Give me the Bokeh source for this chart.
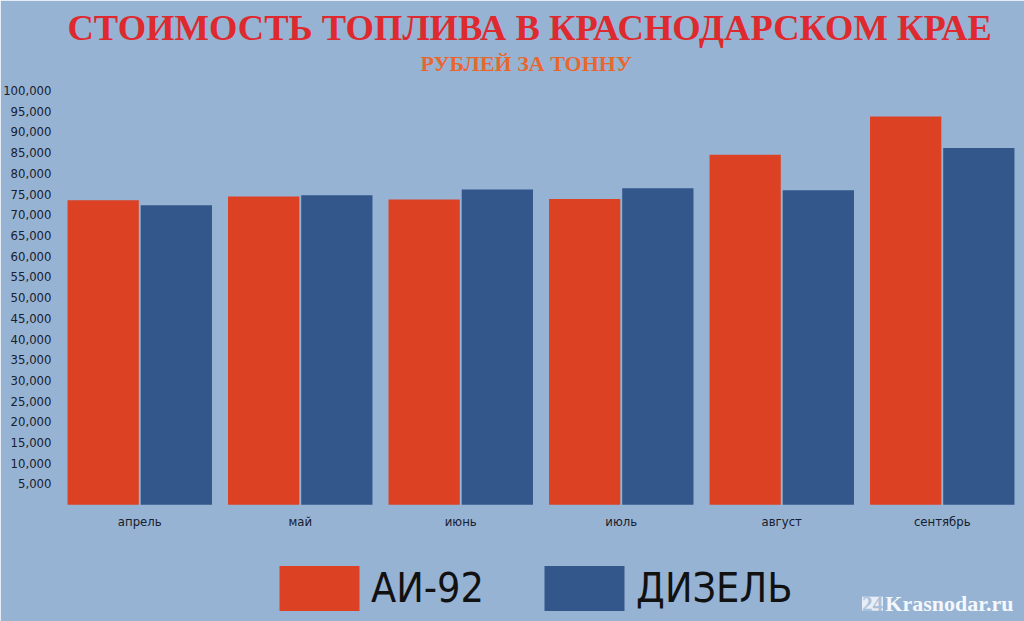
from bokeh.plotting import figure
from bokeh.models import (ColumnDataSource, FactorRange, Range1d, FixedTicker,
                          NumeralTickFormatter, Legend, LegendItem, Title, Label)
from bokeh.transform import dodge
from bokeh.embed import file_html
from bokeh.resources import INLINE

months = ["апрель", "май", "июнь", "июль", "август", "сентябрь"]
ai92 = [73500, 74400, 73700, 73800, 84500, 93700]
diesel = [72300, 74700, 76100, 76400, 75900, 86100]
series_names = ["АИ-92", "ДИЗЕЛЬ"]
y_ticks = list(range(5000, 100001, 5000))
title_text = "СТОИМОСТЬ ТОПЛИВА В КРАСНОДАРСКОМ КРАЕ"
subtitle_text = "РУБЛЕЙ ЗА ТОННУ"

BG = "#97b3d4"
RED = "#dd4124"
BLUE = "#33578a"
NARROW = "'Liberation Sans Narrow', 'DejaVu Sans Condensed', sans-serif"
SERIF = "'Liberation Serif', serif"

src = ColumnDataSource(dict(month=months, ai92=ai92, diesel=diesel))

p = figure(x_range=FactorRange(*months, range_padding=0), y_range=Range1d(-28200, 100000),
           width=1024, height=621, output_backend="svg", toolbar_location=None,
           background_fill_color=BG, border_fill_color=BG,
           outline_line_color=BG, outline_line_width=3,
           min_border_left=59, min_border_right=2, min_border_top=90, min_border_bottom=0)
p.title = None

r1 = p.vbar(x=dodge("month", -0.228, range=p.x_range), top="ai92", width=0.444,
            source=src, fill_color=RED, line_color=None)
r2 = p.vbar(x=dodge("month", 0.228, range=p.x_range), top="diesel", width=0.444,
            source=src, fill_color=BLUE, line_color=None)

p.xgrid.visible = False
p.ygrid.visible = False

for ax in (p.xaxis[0], p.yaxis[0]):
    ax.axis_line_color = None
    ax.major_tick_line_color = None
    ax.minor_tick_line_color = None
    ax.major_label_text_font = NARROW
    ax.major_label_text_color = "#18202e"
    ax.major_label_text_font_size = "13px"

p.yaxis[0].ticker = FixedTicker(ticks=y_ticks)
p.yaxis[0].formatter = NumeralTickFormatter(format="0,0")
p.yaxis[0].major_label_standoff = 2
p.xaxis[0].major_label_standoff = 3
p.xaxis[0].fixed_location = 0

legend = Legend(items=[LegendItem(label=series_names[0], renderers=[r1]),
                       LegendItem(label=series_names[1], renderers=[r2])],
                orientation="horizontal", location=(210, 5),
                glyph_width=100, glyph_height=56, label_height=56,
                label_text_font=NARROW, label_text_font_size="41px",
                label_text_color="#111111", label_standoff=2, spacing=50,
                background_fill_alpha=0, border_line_alpha=0, padding=0, margin=0)
p.add_layout(legend, "center")

sub = Title(text=subtitle_text, align="left", text_font=SERIF, text_font_style="bold",
            text_font_size="22px", text_color="#e8672f", offset=361, standoff=30)
main = Title(text=title_text, align="left", text_font=SERIF, text_font_style="bold",
             text_font_size="36.5px", text_color="#de2a2e", offset=8, standoff=-28)
p.add_layout(sub, "above")
p.add_layout(main, "above")

p.add_layout(Label(x=5.0, y=-23900, text="24", text_font=SERIF, text_font_style="bold",
                   text_font_size="21px", text_color="#a9c0dc", background_fill_color="#e8eef6",
                   text_baseline="middle", padding=0))
p.add_layout(Label(x=5.145, y=-23900, text="Krasnodar.ru", text_font=SERIF, text_font_style="bold",
                   text_font_size="22px", text_color="#f4f7fb", text_baseline="middle"))

open("out.html", "w").write(file_html(p, INLINE))
